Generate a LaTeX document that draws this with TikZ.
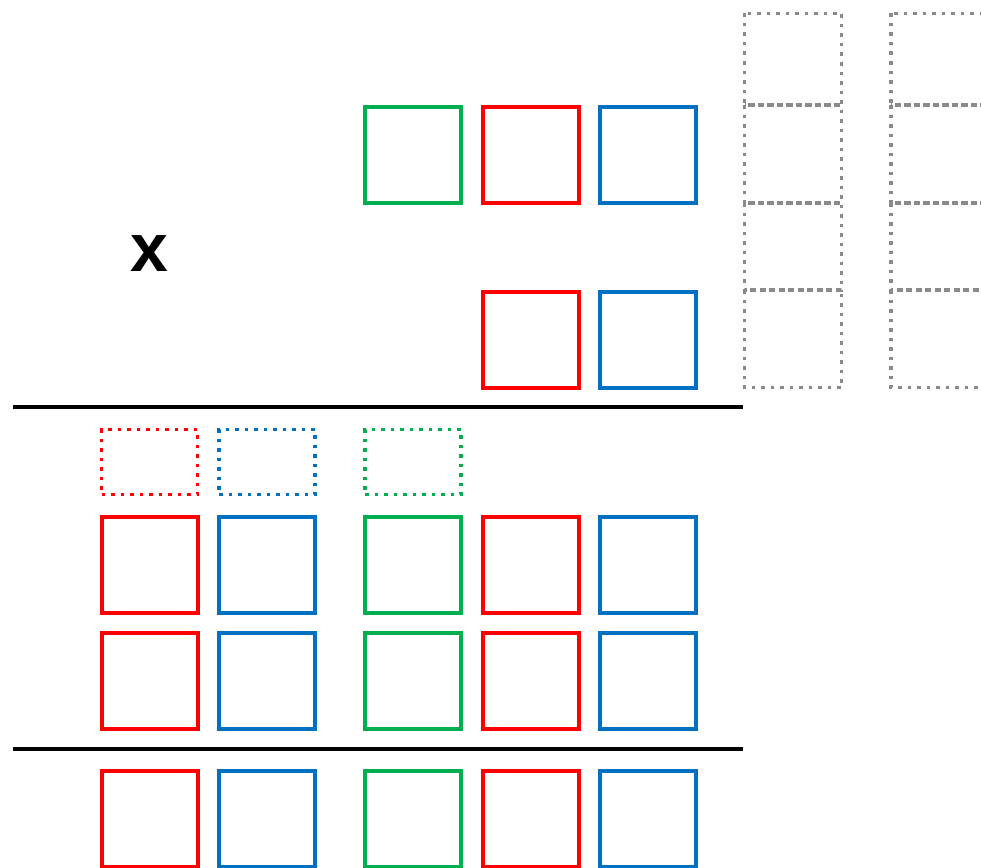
\documentclass[tikz,border=0pt]{standalone}
\usepackage{fontspec}
\setsansfont{Liberation Sans}
\usetikzlibrary{positioning}
\definecolor{sqGreen}{HTML}{00B050}
\definecolor{sqRed}{HTML}{FF0000}
\definecolor{sqBlue}{HTML}{0070C0}
\definecolor{gridGray}{HTML}{8A8A8A}

\begin{document}
\begin{tikzpicture}[x=1pt,y=-1pt,
  sq/.style={draw, line width=4pt, minimum width=96pt, minimum height=96pt, inner sep=0pt},
  dsq/.style={draw, line width=3.5pt, dash pattern=on 3.5pt off 6pt, minimum width=96pt, minimum height=65pt, inner sep=0pt},
  gcell/.style={draw=gridGray, line width=3.5pt, dash pattern=on 3.5pt off 6pt},
  rule/.style={draw=black, line width=4pt}]
\useasboundingbox (0,0) rectangle (981,867);
\clip (0,0) rectangle (981,867);
% multiplicand and multiplier
\node[sq, sqGreen] (a3) at (413,154.5) {};
\node[sq, sqRed] (a4) at (530.5,154.5) {};
\node[sq, sqBlue] (a5) at (647.5,154.5) {};
\node[sq, sqRed] (b4) at (530.5,340) {};
\node[sq, sqBlue] (b5) at (647.5,340) {};
\node[font=\sffamily\bfseries\fontsize{68}{68}\selectfont] (mul) at (149.5,254) {x};
% gray cells
\foreach \top/\bot in {13.5/105, 105/203, 203/290, 290/387.5} {
  \draw[gcell] (744.5,\top) rectangle (841.5,\bot);
  \draw[gcell] (891,\top) rectangle (988,\bot);
}
\coordinate (r1w) at (13,407);
\coordinate (r1e) at (743,407);
\draw[rule] (r1w) -- (r1e);
% carries
\node[dsq, sqRed] (c1) at (149.5,462) {};
\node[dsq, sqBlue] (c2) at (267,462) {};
\node[dsq, sqGreen] (c3) at (413,462) {};
% partial products
\node[sq, sqRed] (p1) at (149.5,564.5) {};
\node[sq, sqBlue] (p2) at (267,564.5) {};
\node[sq, sqGreen] (p3) at (413,564.5) {};
\node[sq, sqRed] (p4) at (530.5,564.5) {};
\node[sq, sqBlue] (p5) at (647.5,564.5) {};
\node[sq, sqRed] (q1) at (149.5,681) {};
\node[sq, sqBlue] (q2) at (267,681) {};
\node[sq, sqGreen] (q3) at (413,681) {};
\node[sq, sqRed] (q4) at (530.5,681) {};
\node[sq, sqBlue] (q5) at (647.5,681) {};
\coordinate (r2w) at (13,749);
\coordinate (r2e) at (743,749);
\draw[rule] (r2w) -- (r2e);
% result
\node[sq, sqRed] (s1) at (149.5,818.5) {};
\node[sq, sqBlue] (s2) at (267,818.5) {};
\node[sq, sqGreen] (s3) at (413,818.5) {};
\node[sq, sqRed] (s4) at (530.5,818.5) {};
\node[sq, sqBlue] (s5) at (647.5,818.5) {};
\end{tikzpicture}
\end{document}
